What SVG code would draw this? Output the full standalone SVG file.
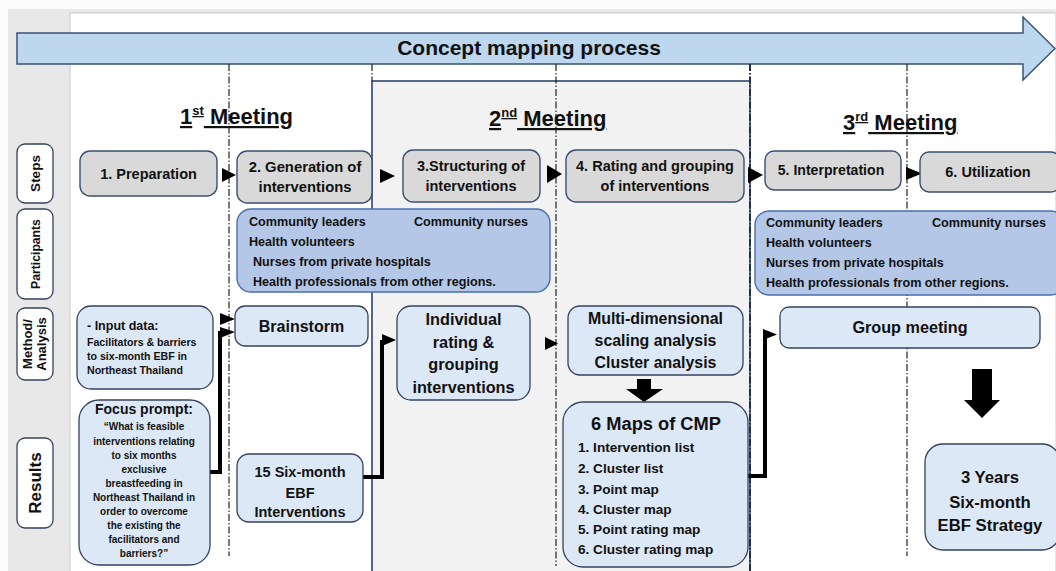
<svg xmlns="http://www.w3.org/2000/svg" width="1056" height="571" viewBox="0 0 1056 571">
<style>
text{font-family:"Liberation Sans",Arial,sans-serif;font-weight:bold;fill:#111}
.c{text-anchor:middle}
.lbl{fill:#fff;stroke:#34425e;stroke-width:1.3}
.step{fill:#d9d9d9;stroke:#3a4e72;stroke-width:1.4}
.part{fill:#b4c7e7;stroke:#4a6fae;stroke-width:1.4}
.lt{fill:#dce8f5;stroke:#34425e;stroke-width:1.3}
.dash{stroke:#222;stroke-width:1.2;stroke-dasharray:7,2,1.5,2;fill:none}
.thick{stroke:#000;stroke-width:4;fill:none}
.tri{fill:#000}
.title{font-size:22px;text-decoration:underline}
</style>
<rect x="0" y="0" width="1056" height="571" fill="#fbfbfb"/>
<rect x="8" y="9" width="1048" height="562" fill="#e8e8e8"/>
<rect x="70" y="13" width="986" height="560" fill="#fff" stroke="#c9c9c9" stroke-width="1"/>
<g id="meeting2-panel">
<rect x="372" y="81" width="378" height="492" fill="#f2f2f2" stroke="#1f3864" stroke-width="1.5"/>
</g>
<g id="banner">
<polygon points="17,33 1023,33 1023,17 1055,48.5 1023,80 1023,64 17,64" fill="#bdd7ee" stroke="#3b5175" stroke-width="1.5"/>
<text class="c" x="529" y="55" font-size="21">Concept mapping process</text>
</g>
<g id="dividers">
<line class="dash" x1="229" y1="64" x2="229" y2="556"/>
<line class="dash" x1="372" y1="64" x2="372" y2="81"/>
<line class="dash" x1="556" y1="64" x2="556" y2="566"/>
<line class="dash" x1="750" y1="64" x2="750" y2="571" style="stroke:#1f2d4a;stroke-width:2"/>
<line class="dash" x1="907" y1="64" x2="907" y2="556"/>
</g>
<g id="titles">
<text x="180" y="124" class="title">1<tspan font-size="13" dy="-9">st</tspan><tspan dy="9"> Meeting</tspan></text>
<text x="489" y="126" class="title">2<tspan font-size="13" dy="-9">nd</tspan><tspan dy="9"> Meeting</tspan></text>
<text x="843" y="130" class="title">3<tspan font-size="13" dy="-9">rd</tspan><tspan dy="9">  Meeting</tspan></text>
</g>
<g id="row-labels">
<g id="lbl-steps"><rect class="lbl" x="17" y="144" width="36" height="59" rx="8"/><text class="c" font-size="13.5" transform="translate(40,173.5) rotate(-90)">Steps</text></g>
<g id="lbl-participants"><rect class="lbl" x="17" y="209" width="36" height="90" rx="8"/><text class="c" font-size="12.2" transform="translate(39.5,254) rotate(-90)">Participants</text></g>
<g id="lbl-method"><rect class="lbl" x="17" y="308" width="36" height="72" rx="8"/><text class="c" font-size="13" transform="translate(32,344) rotate(-90)">Method/</text><text class="c" font-size="13" transform="translate(46,344) rotate(-90)">Analysis</text></g>
<g id="lbl-results"><rect class="lbl" x="17" y="438" width="36" height="90" rx="8"/><text class="c" font-size="17" transform="translate(41,483) rotate(-90)">Results</text></g>
</g>
<g id="connectors">
<polygon class="tri" points="222,168 236,175 222,182"/>
<polygon class="tri" points="380,169 395,176 380,183"/>
<polygon class="tri" points="547,165 562,174 547,183"/>
<polygon class="tri" points="748,167 763,175 748,183"/>
<polygon class="tri" points="906,167 922,173.5 906,180"/>
<polygon class="tri" points="220,313 235,319 220,325"/>
<polyline class="thick" points="210,472 220,472 220,331"/>
<polygon class="tri" points="220,327 235,332 220,338"/>
<polyline class="thick" points="363,477 382,477 382,340"/>
<polygon class="tri" points="382,334 396,340 382,346"/>
<polygon class="tri" points="545,337 558,343.5 545,350"/>
<polyline class="thick" points="748,476 765,476 765,334"/>
<polygon class="tri" points="763,329 777,334.5 763,340"/>
<polygon class="tri" points="637,379 651,379 651,389 663,389 644,402 626,389 637,389"/>
<polygon class="tri" points="972,369 992,369 992,400 1000,400 982,418 964,400 972,400"/>
</g>
<g id="step1"><rect class="step" x="80" y="151" width="137" height="45" rx="10"/><text class="c" x="148.5" y="179" font-size="14.5">1. Preparation</text></g>
<g id="step2"><rect class="step" x="237" y="151" width="135" height="52" rx="10"/><text class="c" x="305" y="172" font-size="14.8">2. Generation of</text><text class="c" x="305" y="192" font-size="14.8">interventions</text></g>
<g id="step3"><rect class="step" x="403" y="150" width="137" height="52" rx="10"/><text class="c" x="471" y="171" font-size="14.5">3.Structuring of</text><text class="c" x="471" y="191" font-size="14.5">interventions</text></g>
<g id="step4"><rect class="step" x="566" y="150" width="178" height="52" rx="10"/><text class="c" x="655" y="171" font-size="14.5">4. Rating and grouping</text><text class="c" x="655" y="191" font-size="14.5">of interventions</text></g>
<g id="step5"><rect class="step" x="765" y="151" width="136" height="39" rx="9"/><text class="c" x="831" y="175" font-size="14.1">5. Interpretation</text></g>
<g id="step6"><rect class="step" x="920" y="152" width="140" height="40" rx="9"/><text class="c" x="988" y="177" font-size="14.5">6. Utilization</text></g>
<g id="participants1"><rect class="part" x="237" y="209" width="313" height="83" rx="14"/>
<g font-size="12.6"><text x="249" y="226">Community leaders</text><text x="414" y="226">Community nurses</text><text x="249" y="246">Health volunteers</text><text x="253" y="266">Nurses from private hospitals</text><text x="253" y="286">Health professionals from other regions.</text></g></g>
<g id="participants2"><rect class="part" x="755" y="211" width="310" height="84" rx="14"/>
<g font-size="12.6"><text x="766" y="227">Community leaders</text><text x="932" y="227">Community nurses</text><text x="766" y="247">Health volunteers</text><text x="766" y="267">Nurses from private hospitals</text><text x="766" y="287">Health professionals from other regions.</text></g></g>
<g id="input-data"><rect class="lt" x="77" y="306" width="136" height="83" rx="14"/>
<text x="87" y="330" font-size="12.5">- Input data:</text><g font-size="10.6"><text x="87" y="346">Facilitators &amp; barriers</text><text x="87" y="360">to six-month EBF in</text><text x="87" y="374">Northeast Thailand</text></g></g>
<g id="focus-prompt"><rect class="lt" x="79" y="400" width="131" height="165" rx="20"/>
<text class="c" x="144" y="414" font-size="14">Focus prompt:</text>
<g font-size="10" text-anchor="middle"><text x="144" y="430">“What is feasible</text><text x="144" y="445">interventions relating</text><text x="144" y="459">to six months</text><text x="144" y="473">exclusive</text><text x="144" y="487">breastfeeding in</text><text x="144" y="501">Northeast Thailand in</text><text x="144" y="515">order to overcome</text><text x="144" y="529">the existing the</text><text x="144" y="543">facilitators and</text><text x="144" y="557">barriers?”</text></g></g>
<g id="brainstorm"><rect class="lt" x="235" y="306" width="133" height="40" rx="10"/><text class="c" x="301.5" y="332" font-size="16">Brainstorm</text></g>
<g id="ebf-interventions"><rect class="lt" x="237" y="454" width="126" height="68" rx="12"/><g font-size="14.5" text-anchor="middle"><text x="300" y="477">15 Six-month</text><text x="300" y="498">EBF</text><text x="300" y="517">Interventions</text></g></g>
<g id="individual-rating"><rect class="lt" x="397" y="306" width="133" height="94" rx="14"/><g font-size="16.3" text-anchor="middle"><text x="463.5" y="325">Individual</text><text x="463.5" y="348">rating &amp;</text><text x="463.5" y="370">grouping</text><text x="463.5" y="393">interventions</text></g></g>
<g id="mds"><rect class="lt" x="568" y="306" width="175" height="69" rx="12"/><g font-size="15.9" text-anchor="middle"><text x="655.5" y="324">Multi-dimensional</text><text x="655.5" y="346">scaling analysis</text><text x="655.5" y="368">Cluster analysis</text></g></g>
<g id="maps"><rect class="lt" x="563" y="402" width="185" height="165" rx="20"/><text class="c" x="656" y="430" font-size="18.3">6 Maps of CMP</text>
<g font-size="13.6"><text x="578" y="452">1. Intervention list</text><text x="578" y="473">2. Cluster list</text><text x="578" y="494">3. Point map</text><text x="578" y="514">4. Cluster map</text><text x="578" y="534">5. Point rating map</text><text x="578" y="554">6. Cluster rating map</text></g></g>
<g id="group-meeting"><rect class="lt" x="780" y="307" width="260" height="41" rx="9"/><text class="c" x="910" y="333" font-size="16.2">Group meeting</text></g>
<g id="strategy"><rect class="lt" x="925" y="444" width="135" height="106" rx="18"/><g font-size="16.7" text-anchor="middle"><text x="990" y="483">3 Years</text><text x="990" y="508">Six-month</text><text x="990" y="531">EBF Strategy</text></g></g>
</svg>
